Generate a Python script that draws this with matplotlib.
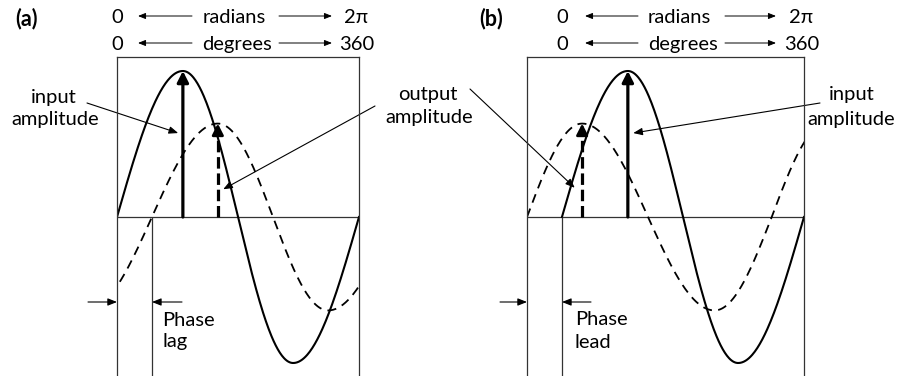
import numpy as np
import matplotlib
matplotlib.use("Agg")
import matplotlib.pyplot as plt

plt.rcParams['font.family'] = ['Lato', 'DejaVu Sans']

W, H = 906, 376

# ---------------- data ----------------
# key points (zero crossings and extrema) of each wave: phase in degrees, amplitude
lag_input_phase = [0, 98, 180, 262, 360]
lag_input_value = [0, 1.0, 0, -1.0, 0]
lag_output_phase = [-46, 52, 150, 232, 314, 412]
lag_output_value = [-0.64, 0, 0.64, 0, -0.64, 0]

lead_input_phase = [0, 98, 180, 262, 360]
lead_input_value = [0, 1.0, 0, -1.0, 0]
lead_output_phase = [-52, 30, 128, 227, 312, 394]
lead_output_value = [0, 0.64, 0, -0.64, 0, 0.64]

phase_shift = [52, -52]          # output zero crossing vs input (lag, lead)
panel_labels = ["(a)", "(b)"]
row_radians = ["0", "radians", "2\u03c0"]
row_degrees = ["0", "degrees", "360"]
input_label = ["input", "amplitude"]
output_label = ["output", "amplitude"]
phase_text = [["Phase", "lag"], ["Phase", "lead"]]

# ---------------- helpers ----------------
def wave(phases, values, n=80):
    xs, ys = [], []
    for i in range(len(phases) - 1):
        p0, p1 = phases[i], phases[i + 1]
        v0, v1 = values[i], values[i + 1]
        t = np.linspace(0, 1, n)
        if v0 == 0:
            y = v1 * np.sin(t * np.pi / 2)
        else:
            y = v0 * np.cos(t * np.pi / 2)
        xs.append(p0 + (p1 - p0) * t)
        ys.append(y)
    return np.concatenate(xs), np.concatenate(ys)


BOX = '#333333'
FS = 14.5

fig = plt.figure(figsize=(W / 100, H / 100), dpi=100)
ov = fig.add_axes([0, 0, 1, 1], zorder=0)
ov.set_xlim(0, W)
ov.set_ylim(H, 0)
ov.axis('off')

TOP, ZERO, SCALE = 57, 217, 146
CALLOUT = dict(arrowstyle='-|>,head_length=0.55,head_width=0.22',
               mutation_scale=10, color='black', lw=0.8, shrinkA=0, shrinkB=0)


def make_panel(x0, x1, xlim):
    ax = fig.add_axes([x0 / W, 0, (x1 - x0) / W, (H - TOP) / H], zorder=1)
    ax.set_facecolor('none')
    ax.set_xlim(*xlim)
    ax.set_ylim(-(H - ZERO) / SCALE, (ZERO - TOP) / SCALE)
    for s in ['top', 'left', 'right']:
        ax.spines[s].set_color(BOX)
        ax.spines[s].set_linewidth(0.9)
    ax.spines['bottom'].set_visible(False)
    ax.set_xticks([])
    ax.set_yticks([])
    ax.axhline(0, color=BOX, lw=0.9)
    return ax


def amp_arrow(ax, x, amp, dashed=False):
    if dashed:
        ax.plot([x, x], [0, amp - 0.05], color='black', lw=2.3,
                dashes=(3.6, 1.5), solid_capstyle='butt', dash_capstyle='butt')
        ax.annotate('', xy=(x, amp), xytext=(x, amp - 0.07),
                    arrowprops=dict(arrowstyle='-|>,head_length=0.55,head_width=0.28',
                                    mutation_scale=12, color='black', lw=2.0,
                                    shrinkA=0, shrinkB=0))
    else:
        ax.annotate('', xy=(x, amp), xytext=(x, 0),
                    arrowprops=dict(arrowstyle='-|>,head_length=0.55,head_width=0.28',
                                    mutation_scale=12, color='black', lw=2.3,
                                    shrinkA=0, shrinkB=0))


def small_arrow(tail_px, tip, tip_trans):
    ov.annotate('', xy=tip, xycoords=tip_trans, xytext=tail_px, textcoords=ov.transData,
                arrowprops=CALLOUT)


def top_rows(zero_x, word_x, end_x, l_tail, l_head, r_tail, r_head):
    for k, (row, yb, ya) in enumerate([(row_radians, 23, 16), (row_degrees, 50, 43)]):
        ov.text(zero_x, yb, row[0], ha='center', va='baseline', fontsize=FS)
        ov.text(word_x[k], yb, row[1], ha='center', va='baseline', fontsize=FS)
        ov.text(end_x[k], yb, row[2], ha='center', va='baseline', fontsize=FS)
        for tail, head in [(l_tail, l_head), (r_tail, r_head)]:
            ov.annotate('', xy=(head, ya), xytext=(tail, ya),
                        arrowprops=dict(arrowstyle='-|>,head_length=0.5,head_width=0.2',
                                        mutation_scale=9, color='black', lw=0.7,
                                        shrinkA=0, shrinkB=0))


# ---------------- panel (a): phase lag ----------------
axa = make_panel(117, 359, (0, 360))
x, y = wave(lag_input_phase, lag_input_value)
axa.plot(x, y, color='black', lw=1.5)
x, y = wave(lag_output_phase, lag_output_value)
axa.plot(x, y, color='black', lw=1.3, dashes=(5, 3.5))
ylo = axa.get_ylim()[0]
axa.vlines(phase_shift[0], ylo, 0, color=BOX, lw=0.9)
amp_arrow(axa, lag_input_phase[1], lag_input_value[1])
amp_arrow(axa, lag_output_phase[2], lag_output_value[2], dashed=True)

ov.text(26, 25, panel_labels[0], ha='center', va='baseline', fontsize=15.5, fontweight='bold')
top_rows(117, (234, 237), (356, 357), 192, 138, 279, 332)

ov.text(54, 103, input_label[0], ha='center', va='baseline', fontsize=FS)
ov.text(55, 125, input_label[1], ha='center', va='baseline', fontsize=FS)
ov.annotate('', xy=(91, 0.575), xycoords=axa.transData, xytext=(87, 103),
            textcoords=ov.transData, arrowprops=CALLOUT)

# shared "output amplitude" label between the two panels
ov.text(428, 100, output_label[0], ha='center', va='baseline', fontsize=FS)
ov.text(429, 123, output_label[1], ha='center', va='baseline', fontsize=FS)
ov.annotate('', xy=(158, 0.19), xycoords=axa.transData, xytext=(375, 106),
            textcoords=ov.transData, arrowprops=CALLOUT)

yarr = -(302 - ZERO) / SCALE
small_arrow((88, 302), (0, yarr), axa.transData)
small_arrow((182, 302), (phase_shift[0], yarr), axa.transData)
ov.text(162, 326, phase_text[0][0], ha='left', va='baseline', fontsize=FS)
ov.text(162, 347, phase_text[0][1], ha='left', va='baseline', fontsize=FS)

# ---------------- panel (b): phase lead ----------------
axb = make_panel(527, 804, (-52, 360))
x, y = wave(lead_input_phase, lead_input_value)
axb.plot(x, y, color='black', lw=1.5)
x, y = wave(lead_output_phase, lead_output_value)
axb.plot(x, y, color='black', lw=1.3, dashes=(5, 3.5))
ylo = axb.get_ylim()[0]
axb.vlines(0, ylo, 0, color=BOX, lw=0.9)
amp_arrow(axb, lead_input_phase[1], lead_input_value[1])
amp_arrow(axb, lead_output_phase[1], lead_output_value[1], dashed=True)

ov.text(491, 25, panel_labels[1], ha='center', va='baseline', fontsize=15.5, fontweight='bold')
top_rows(562, (679, 683), (801, 802), 638, 585, 725, 776)

ov.annotate('', xy=(19, 0.2), xycoords=axb.transData, xytext=(470, 89),
            textcoords=ov.transData, arrowprops=CALLOUT)
ov.text(852, 100, input_label[0], ha='center', va='baseline', fontsize=FS)
ov.text(851, 125, input_label[1], ha='center', va='baseline', fontsize=FS)
ov.annotate('', xy=(106, 0.575), xycoords=axb.transData, xytext=(820, 103),
            textcoords=ov.transData, arrowprops=CALLOUT)

small_arrow((500, 302), (phase_shift[1], yarr), axb.transData)
small_arrow((591, 302), (0, yarr), axb.transData)
ov.text(575, 325, phase_text[1][0], ha='left', va='baseline', fontsize=FS)
ov.text(575, 348, phase_text[1][1], ha='left', va='baseline', fontsize=FS)

fig.savefig('out.png', dpi=100)
